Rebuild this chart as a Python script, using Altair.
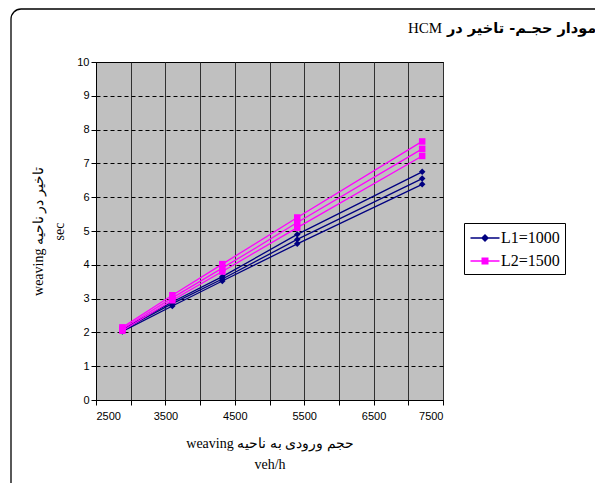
import altair as alt
import pandas as pd

# ---- data ----
x_vals = [2880, 3600, 4320, 5400, 7200]
series_names = ["L1=1000", "L2=1500"]
L1_a = [2.10, 2.90, 3.65, 4.90, 6.75]
L1_b = [2.07, 2.85, 3.58, 4.75, 6.55]
L1_c = [2.03, 2.78, 3.52, 4.62, 6.38]
L2_a = [2.15, 3.10, 4.02, 5.40, 7.65]
L2_b = [2.10, 3.02, 3.90, 5.25, 7.43]
L2_c = [2.05, 2.95, 3.80, 5.10, 7.22]
colors = ["#000080", "#FF00FF"]
x_ticks = [2500, 3000, 3500, 4000, 4500, 5000, 5500, 6000, 6500, 7000, 7500]
y_ticks = [0, 1, 2, 3, 4, 5, 6, 7, 8, 9, 10]
title_ar = "مودار حجـم- تاخیر در"
title_en = "HCM"
x_title = ["weaving حجم ورودی به ناحیه", "veh/h"]
y_title = ["weaving تاخیر در ناحیه", "sec"]

rows = []
for name, curves in [("L1=1000", [L1_a, L1_b, L1_c]), ("L2=1500", [L2_a, L2_b, L2_c])]:
    for ci, ys in enumerate(curves):
        for xv, yv in zip(x_vals, ys):
            rows.append({"series": name, "curve": f"{name}_{ci}", "x": xv, "y": yv})
df = pd.DataFrame(rows)

xenc = alt.X("x:Q", scale=alt.Scale(domain=[2500, 7500], nice=False, zero=False),
             axis=alt.Axis(values=x_ticks, tickCount=30, labelOverlap=False,
                           labelExpr="(datum.value - 2500) % 1000 == 0 ? datum.label : ''",
                           format="d", grid=True, gridColor="#303030", gridWidth=1,
                           title=x_title, titleX=173.5, titleY=47,
                           titleBaseline="alphabetic", titleAlign="center",
                           titleFont="Liberation Serif", titleFontSize=14,
                           titleFontWeight="normal", titleLineHeight=21,
                           titleColor="black", labelPadding=5))
yenc = alt.Y("y:Q", scale=alt.Scale(domain=[0, 10], nice=False),
             axis=alt.Axis(values=y_ticks, tickCount=30, labelOverlap=False, grid=True,
                           format="d", gridColor="black", gridWidth=1,
                           gridDash=[4, 3], title=y_title, titleAngle=-90,
                           titleX=-54, titleY=169, titleBaseline="alphabetic",
                           titleAlign="center", titleFont="Liberation Serif",
                           titleFontSize=14, titleFontWeight="normal",
                           titleLineHeight=21, titleColor="black", labelPadding=2))

base = alt.Chart(df)
layers = []
shapes = ["diamond", "square"]
for i, name in enumerate(series_names):
    sub = base.transform_filter(alt.datum.series == name)
    layers.append(sub.mark_line(strokeWidth=1.3, color=colors[i]).encode(
        x=xenc, y=yenc, detail="curve:N", order=alt.Order("x:Q")))
    layers.append(sub.mark_point(shape=shapes[i], filled=True, size=42, opacity=1,
                                 color=colors[i]).encode(x="x:Q", y="y:Q"))

legend_paths = [
    "M-1.45,-0.07L1.45,-0.07L1.45,0.07L-1.45,0.07Z M0,-0.4L0.4,0L0,0.4L-0.4,0Z",
    "M-1.45,-0.07L1.45,-0.07L1.45,0.07L-1.45,0.07Z M-0.35,-0.35L0.35,-0.35L0.35,0.35L-0.35,0.35Z",
]
leg_common = dict(title=None, orient="none", legendX=368, legendY=161,
                  strokeColor="black", fillColor="white", padding=5, rowPadding=5,
                  symbolSize=400, symbolOffset=6, labelOffset=6, symbolOpacity=1,
                  labelFont="Liberation Serif", labelFontSize=16, labelColor="black",
                  symbolStrokeWidth=0, cornerRadius=0)
legend_layer = base.mark_point(filled=True, opacity=0).encode(
    x="x:Q", y="y:Q",
    color=alt.Color("series:N", scale=alt.Scale(domain=series_names, range=colors),
                    legend=alt.Legend(**leg_common)),
    shape=alt.Shape("series:N", scale=alt.Scale(domain=series_names, range=legend_paths),
                    legend=alt.Legend(**leg_common)),
)

one = alt.Chart(pd.DataFrame({"k": [0]}))
frame = one.mark_rect(fillOpacity=0, stroke="black", strokeWidth=1.3, cornerRadius=10).encode(
    x=alt.value(-85), x2=alt.value(700), y=alt.value(-53), y2=alt.value(600))
t_en = one.mark_text(text=title_en, align="left", baseline="alphabetic",
                     font="Liberation Serif", fontSize=15, color="black").encode(
    x=alt.value(312), y=alt.value(-29))
t_ar = one.mark_text(text=title_ar, align="left", baseline="alphabetic",
                     font="DejaVu Sans", fontSize=14.5, fontWeight="bold", color="black").encode(
    x=alt.value(351), y=alt.value(-29))

chart = alt.layer(frame, *layers, legend_layer, t_en, t_ar).properties(
    width=347, height=338,
    autosize=alt.AutoSizeParams(type="none"),
    padding={"left": 88, "top": 54, "right": 152, "bottom": 83},
    background="white",
).configure_view(
    fill="#C0C0C0", stroke="black", strokeWidth=1
).configure_axis(
    domainColor="black", tickColor="black", tickSize=5, labelFont="Liberation Sans",
    labelFontSize=11, labelColor="black"
)

chart.save("out.html", embed_options={"renderer": "svg", "actions": False})
